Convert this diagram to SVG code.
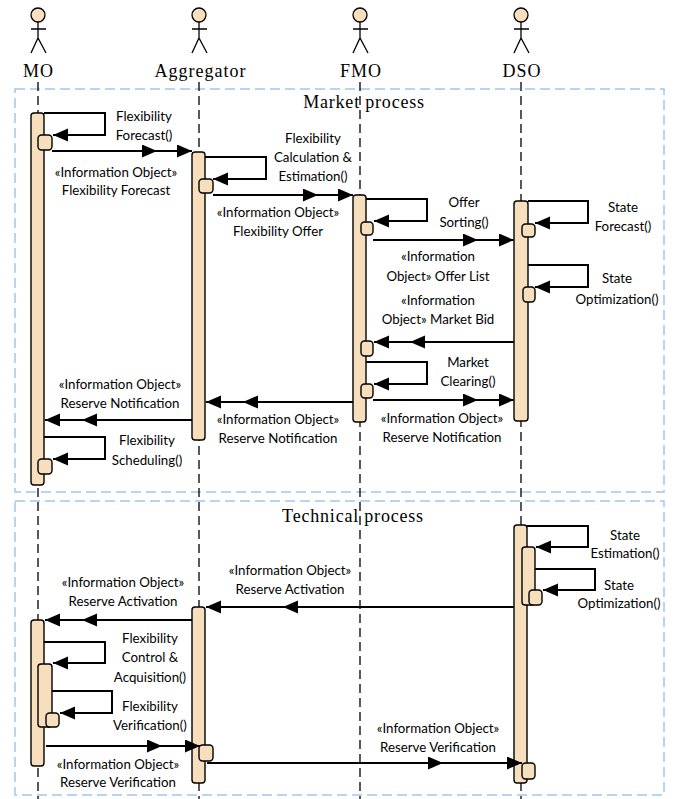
<svg xmlns="http://www.w3.org/2000/svg" width="674" height="799" viewBox="0 0 674 799">
<defs>
<marker id="ah" markerUnits="userSpaceOnUse" markerWidth="17" markerHeight="15" refX="15" refY="6.5" orient="auto">
<path d="M0,0 L15,6.5 L0,13 z" fill="#000"/>
</marker>
<style>
.frame{fill:none;stroke:#9DC8F0;stroke-width:1.5;stroke-dasharray:10 5}
.life{stroke:#000;stroke-width:1.3;stroke-dasharray:9 5;fill:none}
.act{fill:#F7DFBE;stroke:#000;stroke-width:1.4}
.msg{fill:none;stroke:#000;stroke-width:2;marker-mid:url(#ah);marker-end:url(#ah)}
.self{fill:none;stroke:#000;stroke-width:2;marker-end:url(#ah)}
.actor{fill:none;stroke:#000;stroke-width:1.3}
.head{fill:#F7DFBE;stroke:#000;stroke-width:1.3}
.an{font-family:"Liberation Serif","Times New Roman",serif;font-size:18px;letter-spacing:1px;text-anchor:middle;fill:#000}
.ti{font-family:"Liberation Serif","Times New Roman",serif;font-size:18px;letter-spacing:0.8px;text-anchor:middle;fill:#000}
.lb{font-family:Lato,"Liberation Sans",sans-serif;font-size:13.3px;text-anchor:middle;fill:#000}
</style>
</defs>
<rect width="674" height="799" fill="#fff"/>
<g id="frames">
<rect class="frame" x="15" y="89" width="649" height="403"/>
<text class="ti" x="364" y="108">Market process</text>
<rect class="frame" x="15" y="501" width="649" height="294"/>
<text class="ti" x="353" y="522">Technical process</text>
</g>
<g id="lifelines">
<line class="life" x1="38" y1="82" x2="38" y2="799"/>
<line class="life" x1="199" y1="82" x2="199" y2="799"/>
<line class="life" x1="360" y1="82" x2="360" y2="799"/>
<line class="life" x1="521" y1="82" x2="521" y2="799"/>
</g>
<g id="MO">
<circle class="head" cx="38" cy="15" r="7"/>
<path class="actor" d="M38,22 V38 M31,29 H46 M31,53 L38,38 L46,53"/>
<text class="an" x="38.5" y="77">MO</text>
</g>
<g id="Aggregator">
<circle class="head" cx="199" cy="15" r="7"/>
<path class="actor" d="M199,22 V38 M192,29 H207 M192,53 L199,38 L207,53"/>
<text class="an" x="200.5" y="77">Aggregator</text>
</g>
<g id="FMO">
<circle class="head" cx="360" cy="15" r="7"/>
<path class="actor" d="M360,22 V38 M353,29 H368 M353,53 L360,38 L368,53"/>
<text class="an" x="361" y="77">FMO</text>
</g>
<g id="DSO">
<circle class="head" cx="521" cy="15" r="7"/>
<path class="actor" d="M521,22 V38 M514,29 H529 M514,53 L521,38 L529,53"/>
<text class="an" x="522" y="77">DSO</text>
</g>
<g id="activations">
<rect class="act" x="31" y="113" width="13" height="372" rx="3"/>
<rect class="act" x="38" y="135" width="14" height="15" rx="3.5"/>
<rect class="act" x="38" y="459" width="14" height="15" rx="3.5"/>
<rect class="act" x="192" y="152" width="13" height="288" rx="3"/>
<rect class="act" x="199" y="179" width="14" height="14" rx="3.5"/>
<rect class="act" x="353" y="195" width="13" height="227" rx="3"/>
<rect class="act" x="361" y="222" width="12" height="13" rx="3.5"/>
<rect class="act" x="361" y="341" width="12" height="15" rx="3.5"/>
<rect class="act" x="361" y="384" width="12" height="14" rx="3.5"/>
<rect class="act" x="514" y="201" width="14" height="220" rx="3"/>
<rect class="act" x="522" y="224" width="13" height="13" rx="3.5"/>
<rect class="act" x="523" y="287" width="12" height="15" rx="3.5"/>
<rect class="act" x="514" y="525" width="13" height="258" rx="3"/>
<rect class="act" x="522" y="547" width="13" height="58" rx="3"/>
<rect class="act" x="529" y="590" width="13" height="15" rx="3.5"/>
<rect class="act" x="522" y="763" width="13" height="16" rx="3.5"/>
<rect class="act" x="192" y="607" width="13" height="176" rx="3"/>
<rect class="act" x="199" y="745" width="14" height="16" rx="3.5"/>
<rect class="act" x="31" y="620" width="13" height="146" rx="3"/>
<rect class="act" x="38" y="664" width="14" height="63" rx="3"/>
<rect class="act" x="46" y="713" width="13" height="14" rx="3.5"/>
</g>
<g id="connectors">
<path class="self" d="M44,113 H105 V135 H53"/>
<path class="msg" d="M52,151 L157,151 L192,151"/>
<path class="self" d="M205,157 H266 V179 H213"/>
<path class="msg" d="M213,195 L318,195 L353,195"/>
<path class="self" d="M366,199 H427 V221 H374"/>
<path class="msg" d="M373,240 L478,240 L514,240"/>
<path class="self" d="M528,201 H588 V223 H535"/>
<path class="self" d="M528,265 H588 V287 H535"/>
<path class="msg" d="M514,342 L410,342 L374,342"/>
<path class="self" d="M366,362 H427 V384 H374"/>
<path class="msg" d="M373,400 L478,400 L514,400"/>
<path class="msg" d="M353,402 L243,402 L206,402"/>
<path class="msg" d="M192,420 L82,420 L45,420"/>
<path class="self" d="M44,437 H105 V459 H53"/>
<path class="self" d="M527,526 H588 V547 H536"/>
<path class="self" d="M535,569 H595 V590 H543"/>
<path class="msg" d="M514,607 L283,607 L206,607"/>
<path class="msg" d="M192,620 L82,620 L45,620"/>
<path class="self" d="M44,642 H105 V663 H53"/>
<path class="self" d="M52,691 H112 V713 H60"/>
<path class="msg" d="M46,746 L162,746 L200,746"/>
<path class="msg" d="M207,763 L443,763 L522,763"/>
</g>
<g id="labels">
<text class="lb" x="144" y="121">Flexibility</text>
<text class="lb" x="144" y="140">Forecast()</text>
<text class="lb" x="116" y="177">«Information Object»</text>
<text class="lb" x="116" y="195">Flexibility Forecast</text>
<text class="lb" x="313" y="143">Flexibility</text>
<text class="lb" x="313" y="162">Calculation &amp;</text>
<text class="lb" x="313" y="181">Estimation()</text>
<text class="lb" x="278" y="217">«Information Object»</text>
<text class="lb" x="278" y="236">Flexibility Offer</text>
<text class="lb" x="464" y="207">Offer</text>
<text class="lb" x="464" y="227">Sorting()</text>
<text class="lb" x="623" y="212">State</text>
<text class="lb" x="623" y="231">Forecast()</text>
<text class="lb" x="438" y="261">«Information</text>
<text class="lb" x="438" y="281">Object» Offer List</text>
<text class="lb" x="617" y="283">State</text>
<text class="lb" x="617" y="304">Optimization()</text>
<text class="lb" x="438" y="305">«Information</text>
<text class="lb" x="438" y="324">Object» Market Bid</text>
<text class="lb" x="468" y="367">Market</text>
<text class="lb" x="468" y="386">Clearing()</text>
<text class="lb" x="442" y="423">«Information Object»</text>
<text class="lb" x="442" y="442">Reserve Notification</text>
<text class="lb" x="278" y="424">«Information Object»</text>
<text class="lb" x="278" y="443">Reserve Notification</text>
<text class="lb" x="120" y="389">«Information Object»</text>
<text class="lb" x="120" y="408">Reserve Notification</text>
<text class="lb" x="147" y="445">Flexibility</text>
<text class="lb" x="147" y="465">Scheduling()</text>
<text class="lb" x="625" y="540">State</text>
<text class="lb" x="625" y="558">Estimation()</text>
<text class="lb" x="619" y="590">State</text>
<text class="lb" x="619" y="608">Optimization()</text>
<text class="lb" x="290" y="575">«Information Object»</text>
<text class="lb" x="290" y="594">Reserve Activation</text>
<text class="lb" x="123" y="587">«Information Object»</text>
<text class="lb" x="123" y="606">Reserve Activation</text>
<text class="lb" x="150" y="643">Flexibility</text>
<text class="lb" x="150" y="662">Control &amp;</text>
<text class="lb" x="150" y="682">Acquisition()</text>
<text class="lb" x="150" y="711">Flexibility</text>
<text class="lb" x="150" y="730">Verification()</text>
<text class="lb" x="118" y="769">«Information Object»</text>
<text class="lb" x="118" y="787">Reserve Verification</text>
<text class="lb" x="438" y="733">«Information Object»</text>
<text class="lb" x="438" y="752">Reserve Verification</text>
</g>
</svg>
